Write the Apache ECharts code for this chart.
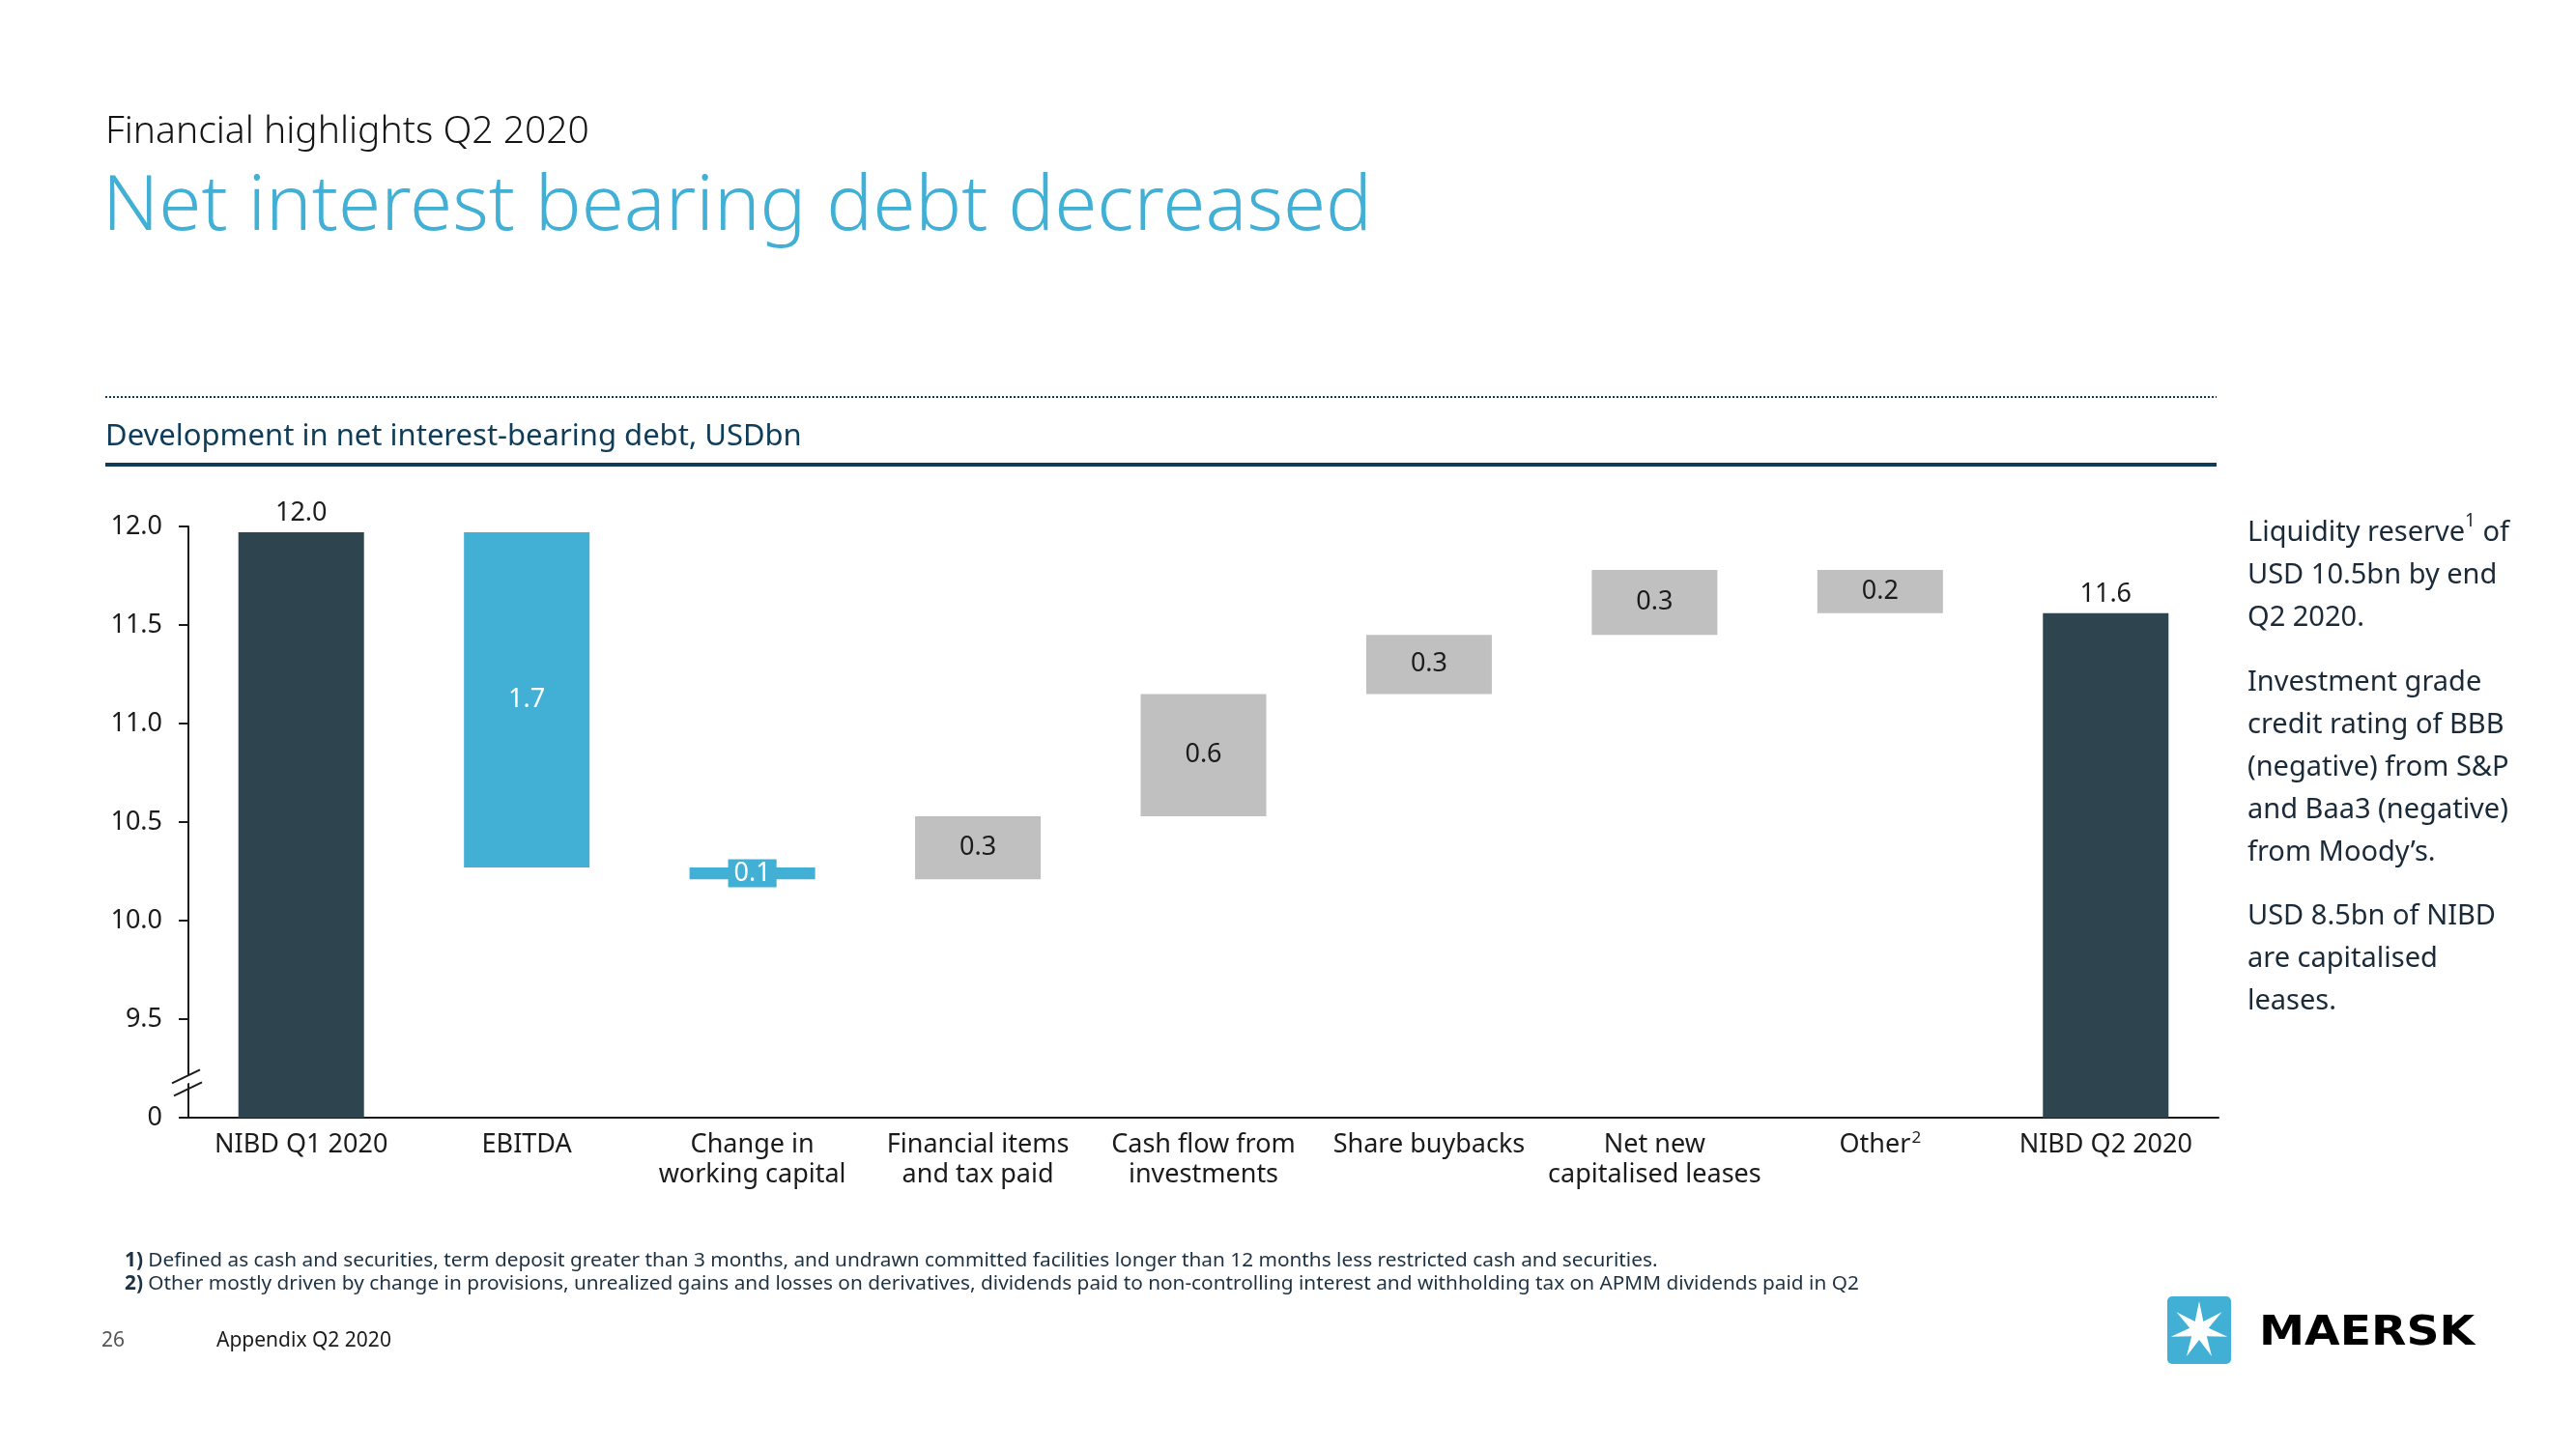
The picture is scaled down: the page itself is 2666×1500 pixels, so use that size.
<!DOCTYPE html>
<html>
<head>
<meta charset="utf-8">
<script src="https://cdn.jsdelivr.net/npm/echarts@6/dist/echarts.min.js"></script>
<style>
html,body{margin:0;padding:0;background:#fff;}
#chart{width:2666px;height:1500px;}
</style>
</head>
<body>
<div id="chart"></div>
<script>
// ---- data ----
const categories = ['NIBD Q1 2020', 'EBITDA', 'Change in\nworking capital', 'Financial items\nand tax paid',
  'Cash flow from\ninvestments', 'Share buybacks', 'Net new\ncapitalised leases', 'Other', 'NIBD Q2 2020'];
const openingNIBD = 11.97;
const changes = [-1.70, -0.06, 0.32, 0.62, 0.30, 0.33, -0.22]; // EBITDA ... Other
const closingNIBD = 11.56;
const yTickValues = [9, 9.5, 10, 10.5, 11, 11.5, 12];
const yTickLabels = ['0', '9.5', '10.0', '10.5', '11.0', '11.5', '12.0'];

// ---- build waterfall (invisible base + visible block) ----
const bases = [0];
const heights = [openingNIBD];
const shown = [openingNIBD];
let run = openingNIBD;
changes.forEach(c => {
  const next = run + c;
  bases.push(Math.min(run, next));
  heights.push(Math.abs(c));
  shown.push(Math.abs(c));
  run = next;
});
bases.push(0);
heights.push(closingNIBD);
shown.push(closingNIBD);

const DARK = '#2e454f', BLUE = '#42b0d5', GREY = '#c0c0c0';
const FONT = 'Noto Sans';
const TXT = '#1b1b1b';
const lastIdx = categories.length - 1;
function styleFor(i) {
  if (i === 0 || i === lastIdx) return {color: DARK, label: {position: 'top', color: TXT, distance: 6}};
  if (i === 1) return {color: BLUE, label: {position: 'inside', color: '#fff'}};
  if (i === 2) return {color: BLUE, label: {position: 'inside', color: '#fff', backgroundColor: BLUE, padding: [1, 6]}};
  return {color: GREY, label: {position: 'inside', color: TXT}};
}

const chart = echarts.init(document.getElementById('chart'), null, {renderer: 'canvas'});

// 7-point star for the logo
const starPts = [];
(function () {
  const cx = 2276, cy = 1377, R = 30, r = 10;
  for (let k = 0; k < 14; k++) {
    const a = -Math.PI / 2 + k * Math.PI / 7;
    const rr = k % 2 === 0 ? R : r;
    starPts.push([cx + rr * Math.cos(a), cy + rr * Math.sin(a)]);
  }
})();

const rightText = [
  {y: 530, t: 'Liquidity reserve{sup|1} of\nUSD 10.5bn by end\nQ2 2020.'},
  {y: 685, t: 'Investment grade\ncredit rating of BBB\n(negative) from S&P\nand Baa3 (negative)\nfrom Moody\u2019s.'},
  {y: 927, t: 'USD 8.5bn of NIBD\nare capitalised\nleases.'}
];

const graphics = [
  {type: 'text', left: 109, top: 117, style: {text: 'Financial highlights Q2 2020', font: '300 39px "Noto Sans"', fill: '#141414'}},
  {type: 'text', left: 106, top: 175, style: {text: 'Net interest bearing debt decreased', font: '300 80px "Noto Sans"', fill: BLUE}},
  {type: 'line', shape: {x1: 109, y1: 411, x2: 2294, y2: 411}, style: {stroke: '#0e3c59', lineWidth: 2, lineDash: [2, 2]}},
  {type: 'text', left: 109, top: 437, style: {text: 'Development in net interest-bearing debt, USDbn', font: '31px "Noto Sans"', fill: '#0e3c59'}},
  {type: 'line', shape: {x1: 109, y1: 481, x2: 2294, y2: 481}, style: {stroke: '#0e3c59', lineWidth: 4}},
  {type: 'text', left: 129, top: 1293, style: {
    text: '{b|1)} Defined as cash and securities, term deposit greater than 3 months, and undrawn committed facilities longer than 12 months less restricted cash and securities.\n{b|2)} Other mostly driven by change in provisions, unrealized gains and losses on derivatives, dividends paid to non-controlling interest and withholding tax on APMM dividends paid in Q2',
    font: '20.8px "Noto Sans"', fill: '#1d3142', lineHeight: 24,
    rich: {b: {fontWeight: 'bold', fontSize: 20.8, fontFamily: FONT, fill: '#1d3142'}}
  }},
  {type: 'text', left: 105, top: 1378, style: {text: '26', font: '21px "Noto Sans"', fill: '#555'}},
  {type: 'text', left: 224, top: 1378, style: {text: 'Appendix Q2 2020', font: '21px "Noto Sans"', fill: '#1a1a1a'}},
  {type: 'rect', shape: {x: 2243, y: 1342, width: 66, height: 70, r: 5}, style: {fill: BLUE}},
  {type: 'polygon', shape: {points: starPts}, style: {fill: '#fff'}},
  {type: 'text', x: 2338, y: 1381, scaleX: 1.1, originX: 0, originY: 0, style: {text: 'MAERSK', font: '900 43px "DejaVu Sans"', fill: '#000', textVerticalAlign: 'middle'}}
];
rightText.forEach(p => graphics.push({
  type: 'text', left: 2326, top: p.y,
  style: {text: p.t, font: '29px "Noto Sans"', fill: '#1b2a38', lineHeight: 44,
    rich: {sup: {fontSize: 19, fontFamily: FONT, fill: '#1b2a38', verticalAlign: 'top', lineHeight: 32}}}
}));

chart.setOption({
  animation: false,
  backgroundColor: '#fff',
  textStyle: {fontFamily: FONT},
  grid: {left: 195, right: 370, top: 545, bottom: 343, containLabel: false},
  xAxis: {
    type: 'category', data: categories,
    axisLine: {lineStyle: {color: '#1a1a1a', width: 2}},
    axisTick: {show: false},
    axisLabel: {
      interval: 0, fontSize: 27, color: TXT, lineHeight: 31, margin: 13, fontFamily: FONT,
      formatter: v => v === 'Other' ? 'Other{sup|2}' : v,
      rich: {sup: {fontSize: 17, fontFamily: FONT, color: TXT, verticalAlign: 'top', padding: [0, 0, 14, 1]}}
    }
  },
  yAxis: {
    type: 'value', min: 9, max: 12, interval: 0.5,
    axisLine: {show: true, lineStyle: {color: '#1a1a1a', width: 2}},
    axisTick: {show: true, length: 10, lineStyle: {color: '#1a1a1a', width: 2}},
    splitLine: {show: false},
    axisLabel: {
      fontSize: 27, color: TXT, margin: 27, fontFamily: FONT,
      formatter: v => {
        const i = yTickValues.findIndex(t => Math.abs(t - v) < 1e-6);
        return i >= 0 ? yTickLabels[i] : '';
      }
    }
  },
  series: [
    {
      type: 'bar', stack: 'w', data: bases, barWidth: 130,
      itemStyle: {color: 'transparent'}, emphasis: {disabled: true}, silent: true
    },
    {
      type: 'bar', stack: 'w', barWidth: 130,
      data: heights.map((h, i) => {
        const s = styleFor(i);
        return {
          value: h,
          itemStyle: {color: s.color},
          label: Object.assign({show: true, fontSize: 27, fontFamily: FONT,
            formatter: () => shown[i].toFixed(1)}, s.label)
        };
      })
    }
  ],
  graphic: graphics
});

// y-axis break marks placed through the axis scale
const ax = chart.convertToPixel({gridIndex: 0}, [0, 9.18]);
const axisX = 195;
const yb = ax[1];
chart.setOption({
  graphic: graphics.concat([
    {type: 'polygon', shape: {points: [[axisX - 16, yb + 1], [axisX + 12, yb - 13], [axisX + 12, yb - 5], [axisX - 16, yb + 9]]}, style: {fill: '#fff'}, z: 100},
    {type: 'line', shape: {x1: axisX - 17, y1: yb + 1, x2: axisX + 12, y2: yb - 13}, style: {stroke: '#1a1a1a', lineWidth: 2}, z: 101},
    {type: 'line', shape: {x1: axisX - 15, y1: yb + 14, x2: axisX + 14, y2: yb}, style: {stroke: '#1a1a1a', lineWidth: 2}, z: 101}
  ])
});
</script>
</body>
</html>
